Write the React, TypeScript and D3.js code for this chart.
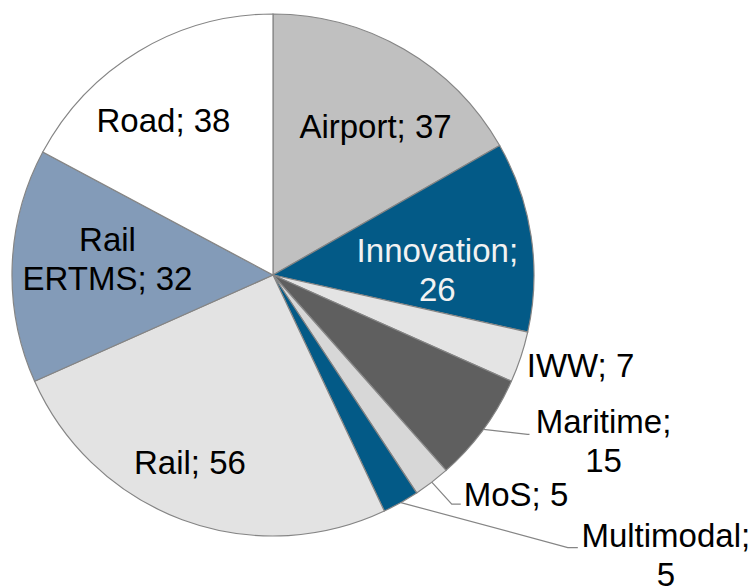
import { useEffect, useRef } from 'react';
import * as d3 from 'd3';

// values, clockwise from 12 o'clock
const categories = ['Airport', 'Innovation', 'IWW', 'Maritime', 'MoS', 'Multimodal', 'Rail', 'Rail ERTMS', 'Road'];
const values = [37, 26, 7, 15, 5, 5, 56, 32, 38];
// how each label is split into lines
const labelLines = [
  ['Airport; 37'],
  ['Innovation;', '26'],
  ['IWW; 7'],
  ['Maritime;', '15'],
  ['MoS; 5'],
  ['Multimodal;', '5'],
  ['Rail; 56'],
  ['Rail', 'ERTMS; 32'],
  ['Road; 38'],
];

const colors = ['#c0c0c0', '#035a87', '#e4e4e4', '#5f5f5f', '#d7d7d7', '#035a87', '#e3e3e3', '#839bb8', '#ffffff'];
const textColors = ['#000', '#f2f2f2', '#000', '#000', '#000', '#000', '#000', '#000', '#000'];

// inside labels: radius fraction + angle nudge (deg)
const inside: Record<string, { k: number; da: number }> = {
  Airport: { k: 0.693, da: 4.4 },
  Innovation: { k: 0.63, da: 6.8 },
  Rail: { k: 0.784, da: 3.6 },
  'Rail ERTMS': { k: 0.637, da: 3.4 },
  Road: { k: 0.727, da: -4.3 },
};
// outside labels: offsets from the slice's rim midpoint
const outside: Record<string, any> = {
  IWW: { tx: 6, ty: 8, anchor: 'start' },
  Maritime: { leader: [[44, 5], [46, 5]], tx: 120, ty: -8, anchor: 'middle' },
  MoS: { leader: [[20, 22], [29, 22]], tx: 32, ty: 12, anchor: 'start' },
  Multimodal: { leader: [[167, 45], [177, 45]], tx: 265, ty: 33, anchor: 'middle' },
};

const App = () => {
  const svgRef = useRef<SVGSVGElement>(null);

  useEffect(() => {
    const w = 756;
    const h = 588;
    const cx = 273;
    const cy = 275;
    const r = 261;
    const fs = 33;
    const lh = 39;

    const svg = d3.select(svgRef.current).attr('width', w).attr('height', h);
    svg.selectAll('*').remove();

    const data = categories.map((c, i) => ({ name: c, value: values[i], i }));
    const pie = d3.pie<any>().value(d => d.value).sort(null);
    const arcs = pie(data);
    const arc = d3.arc<any>().innerRadius(0).outerRadius(r);

    const g = svg.append('g').attr('transform', `translate(${cx},${cy})`);

    g.selectAll('path')
      .data(arcs)
      .enter()
      .append('path')
      .attr('d', arc)
      .attr('fill', d => colors[d.data.i])
      .attr('stroke', '#858585')
      .attr('stroke-width', 1.2);

    const polar = (a: number, rad: number) => [rad * Math.sin(a), -rad * Math.cos(a)];

    arcs.forEach(d => {
      const name = d.data.name;
      const lines = labelLines[d.data.i];
      const mid = (d.startAngle + d.endAngle) / 2;
      const txt = g.append('text')
        .attr('font-family', '"Liberation Sans", Arial, sans-serif')
        .attr('font-size', fs)
        .attr('fill', textColors[d.data.i]);

      if (inside[name]) {
        const p = inside[name];
        const [x, y] = polar(mid + (p.da * Math.PI) / 180, p.k * r);
        const y0 = y - ((lines.length - 1) * lh) / 2;
        txt.attr('text-anchor', 'middle');
        lines.forEach((l, j) => {
          txt.append('tspan').attr('x', x).attr('y', y0 + j * lh).attr('dy', '0.35em').text(l);
        });
      } else {
        const p = outside[name];
        const [ex, ey] = polar(mid, r);
        if (p.leader) {
          const pts = [[ex, ey], ...p.leader.map((q: number[]) => [ex + q[0], ey + q[1]])];
          g.append('path')
            .attr('d', d3.line()(pts as [number, number][]))
            .attr('fill', 'none')
            .attr('stroke', '#858585')
            .attr('stroke-width', 1.2);
        }
        txt.attr('text-anchor', p.anchor);
        lines.forEach((l, j) => {
          txt.append('tspan').attr('x', ex + p.tx).attr('y', ey + p.ty + j * lh).attr('dy', '0.35em').text(l);
        });
      }
    });
  }, []);

  return (
    <div>
      <svg ref={svgRef} style={{ position: 'absolute', left: 0, top: 0 }}></svg>
    </div>
  );
};

export default App;
